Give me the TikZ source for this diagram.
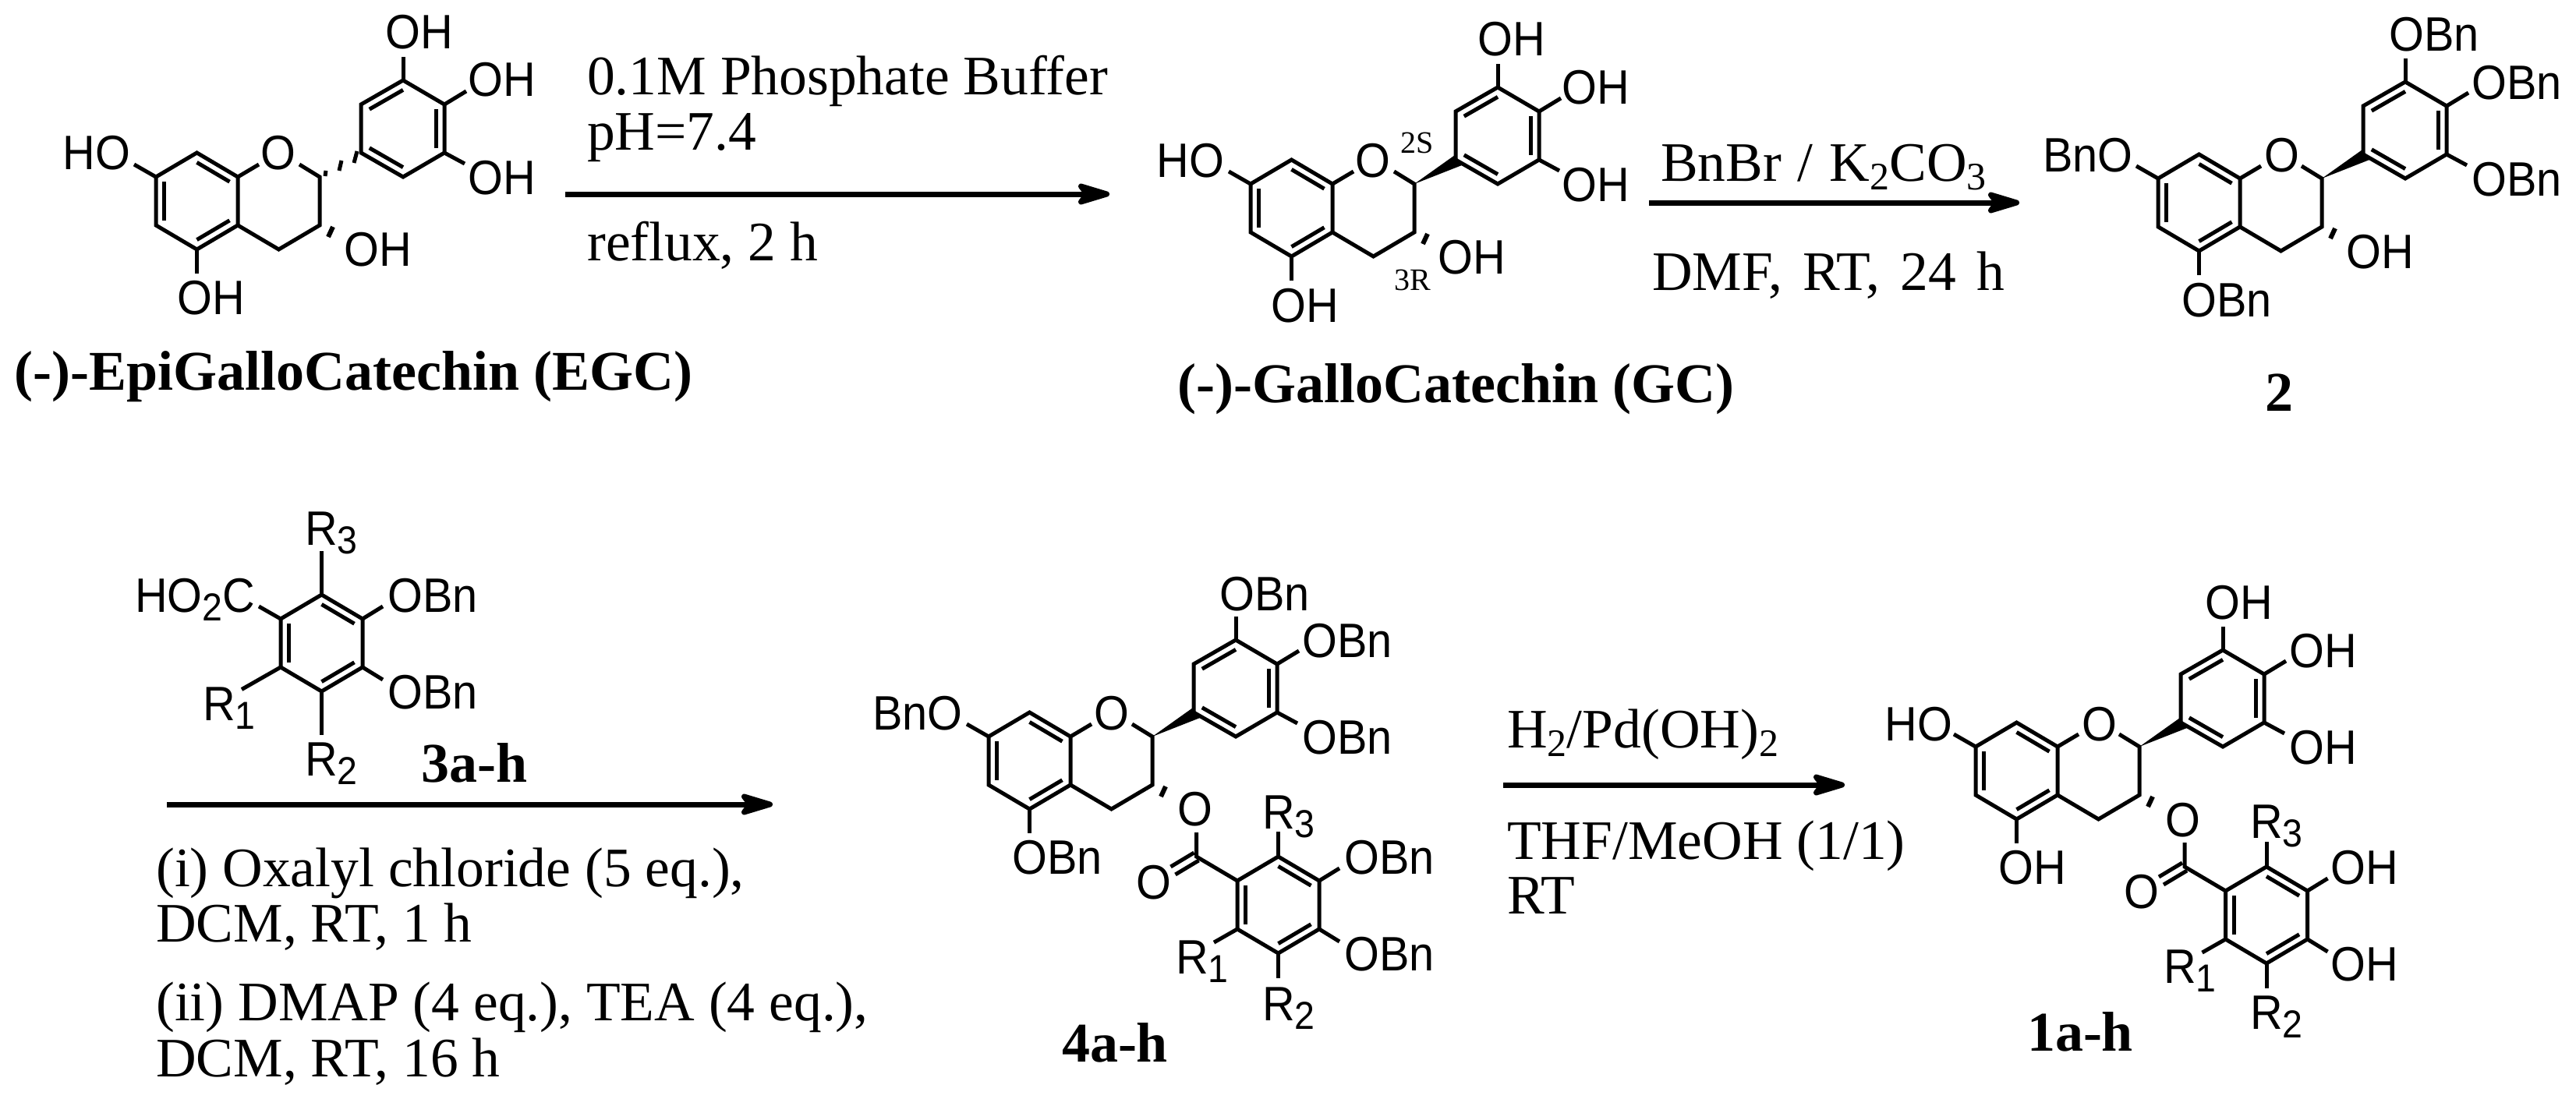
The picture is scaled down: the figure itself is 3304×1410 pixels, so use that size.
\documentclass[tikz,border=0pt]{standalone}
\usepackage{fontspec}
\setmainfont{Liberation Serif}
\setsansfont[FakeStretch=0.93]{Liberation Sans}
\usetikzlibrary{calc,arrows.meta}
\newcommand\lowdigit[1]{\raisebox{-11pt}{\fontsize{50}{50}\selectfont #1}}
\tikzset{
  bond/.style={line width=5pt,line join=miter,line cap=butt,black},
  atom/.style={font=\sffamily\fontsize{62}{62}\selectfont,inner sep=0pt,text height=44pt,text depth=0pt,anchor=center},
  rxntext/.style={font=\fontsize{71.5}{72}\selectfont,inner sep=0pt,anchor=base west},
  cpd/.style={font=\bfseries\fontsize{72}{72}\selectfont,inner sep=0pt,anchor=base west},
  cpdc/.style={font=\bfseries\fontsize{72}{72}\selectfont,inner sep=0pt,anchor=base},
  stereo/.style={font=\fontsize{40}{40}\selectfont,inner sep=0pt,anchor=center},
  rxnarrow/.style={line width=7pt,-{Stealth[length=54pt,width=32pt,inset=12pt,round]}},
}
% inner line of a ring double bond: a, b and the ring centre
\newcommand\inbond[3]{\draw[bond] ($(#1)!.2!(#3)$) -- ($(#2)!.2!(#3)$);}
% flavan-3-ol skeleton; #1 prefix, #2 #3 position of C8a
\newcommand\flavan[3]{%
\begin{scope}[shift={(#2,#3)}]
  \coordinate (#1ea) at (0,0);
  \coordinate (#1eb) at (-52.5,-31);
  \coordinate (#1sv) at (-105,0);
  \coordinate (#1sx) at (-105,62);
  \coordinate (#1fv) at (-52.5,93);
  \coordinate (#1fa) at (0,62);
  \coordinate (#1fo) at (52.5,93);
  \coordinate (#1th) at (105,62);
  \coordinate (#1tw) at (105,0);
  \coordinate (#1ac) at (-52.5,31);
  \coordinate (#1bo) at (158,-31);
  \coordinate (#1bt) at (158,-93);
  \coordinate (#1bc) at (212,-124);
  \coordinate (#1bf) at (265,-93);
  \coordinate (#1bv) at (265,-31);
  \coordinate (#1bs) at (212,0);
  \coordinate (#1bm) at (212,-62);
  \draw[bond] (#1ea) -- (#1eb) -- (#1sv) -- (#1sx) -- (#1fv) -- (#1fa) -- cycle;
  \draw[bond] (#1fa) -- (#1fo) -- (#1th) -- (#1tw) -- (79,-16);
  \draw[bond] (#1ea) -- (27,-16);
  \draw[bond] (#1bo) -- (#1bt) -- (#1bc) -- (#1bf) -- (#1bv) -- (#1bs) -- cycle;
  \inbond{#1ea}{#1eb}{#1ac}
  \inbond{#1sv}{#1sx}{#1ac}
  \inbond{#1fv}{#1fa}{#1ac}
  \inbond{#1bt}{#1bc}{#1bm}
  \inbond{#1bf}{#1bv}{#1bm}
  \inbond{#1bo}{#1bs}{#1bm}
  \draw[bond] (#1sv) -- (-133,-16);
  \draw[bond] (#1fv) -- (-52.5,124);
  \draw[bond] (#1bc) -- (212,-154);
  \draw[bond] (#1bf) -- (293,-110);
  \draw[bond] (#1bv) -- (291,-17);
  \draw[line width=6pt] (122,64) -- (116,77);
\end{scope}}
\newcommand\solidwedge[3]{%
\begin{scope}[shift={(#2,#3)}]
  \fill (#1tw) -- (157,-37) -- (166,-24) -- cycle;
\end{scope}}
\newcommand\hashwedge[3]{%
\begin{scope}[shift={(#2,#3)}]
  \draw[bond] (113,-8) -- (112,-1);
  \draw[bond] (133,-21) -- (130,-8);
  \draw[bond] (153,-33) -- (149,-18);
\end{scope}}
% substituted benzene; #1 prefix, #2 #3 centre, #4 length of vertical stubs, #5 x-length of the R1 stub
\newcommand\aroyl[5]{%
\begin{scope}[shift={(#2,#3)}]
  \coordinate (#1c) at (0,0);
  \coordinate (#1lt) at (-52.5,-31);
  \coordinate (#1t) at (0,-62);
  \coordinate (#1rt) at (52.5,-31);
  \coordinate (#1rb) at (52.5,31);
  \coordinate (#1b) at (0,62);
  \coordinate (#1lb) at (-52.5,31);
  \draw[bond] (#1lt) -- (#1t) -- (#1rt) -- (#1rb) -- (#1b) -- (#1lb) -- cycle;
  \inbond{#1lt}{#1lb}{#1c}
  \inbond{#1t}{#1rt}{#1c}
  \inbond{#1rb}{#1b}{#1c}
  \draw[bond] (#1t) -- ++(0,-#4);
  \draw[bond] (#1b) -- ++(0,#4);
  \draw[bond] (#1rt) -- ++(26,-16);
  \draw[bond] (#1rb) -- ++(26,16);
  \draw[bond] (#1lb) -- ++({-#5},{#5*0.57});
\end{scope}}
% ester C(=O)O on the upper-left ring atom; #1 ring prefix
\newcommand\ester[1]{%
  \coordinate (#1co) at ($(#1lt)+(-52.5,-31)$);
  \draw[bond] (#1lt) -- (#1co) -- ++(0,-31);
  \draw[bond] ($(#1co)+(3,5)$) -- ++(-30,18);
  \draw[bond] ($(#1co)+(-3,-5)$) -- ++(-30,18);
}
\begin{document}
\begin{tikzpicture}[x=1pt,y=-1pt]
\useasboundingbox (0,0) rectangle (3304,1410);
\fill[white] (0,0) rectangle (3304,1410);

% (-)-EpiGalloCatechin
\flavan{e}{305}{227}
\hashwedge{e}{305}{227}
\node[atom] (eHO) at (124,195) {HO};
\node[atom] (eO) at (357,195) {O};
\node[atom] (eOHa) at (538,41) {OH};
\node[atom] (eOHb) at (644,102) {OH};
\node[atom] (eOHc) at (644,227) {OH};
\node[atom] (eOHd) at (485,319) {OH};
\node[atom] (eOHe) at (271,381) {OH};
\node[cpd] (eName) at (18,500) {(-)-EpiGalloCatechin (EGC)};

% first reaction
\coordinate (ra1) at (725,249);
\coordinate (rb1) at (1423,249);
\draw[rxnarrow] (ra1) -- (rb1);
\node[rxntext] (t1a) at (753,122) {0.1M Phosphate Buffer};
\node[rxntext] (t1b) at (753,193) {pH=7.4};
\node[rxntext] (t1c) at (753,334) {reflux, 2 h};

% (-)-GalloCatechin
\flavan{g}{1709}{236}
\solidwedge{g}{1709}{236}
\node[atom] (gHO) at (1527,205) {HO};
\node[atom] (gO) at (1761,205) {O};
\node[atom] (gOHa) at (1939,50) {OH};
\node[atom] (gOHb) at (2047,112) {OH};
\node[atom] (gOHc) at (2047,236) {OH};
\node[atom] (gOHd) at (1888,329) {OH};
\node[atom] (gOHe) at (1674,391) {OH};
\node[stereo] (g2S) at (1818,183) {2S};
\node[stereo] (g3R) at (1812,359) {3R};
\node[cpd] (gName) at (1510,516) {(-)-GalloCatechin (GC)};

% second reaction
\coordinate (ra2) at (2115,260);
\coordinate (rb2) at (2590,260);
\draw[rxnarrow] (ra2) -- (rb2);
\node[rxntext] (t2a) at (2130,232) {BnBr\hspace{3pt} /\hspace{3pt} K\lowdigit{2}CO\lowdigit{3}};
\node[rxntext] (t2b) at (2119,372) {DMF,\hspace{8pt} RT,\hspace{8pt} 24\hspace{8pt} h};

% compound 2
\flavan{b}{2873}{229}
\solidwedge{b}{2873}{229}
\node[atom] (bBnO) at (2678,198) {BnO};
\node[atom] (bO) at (2927,198) {O};
\node[atom] (bOBa) at (3122,44) {OBn};
\node[atom] (bOBb) at (3228,106) {OBn};
\node[atom] (bOBc) at (3228,229) {OBn};
\node[atom] (bOH) at (3053,322) {OH};
\node[atom] (bOBd) at (2856,384) {OBn};
\node[cpdc] (bName) at (2923,527) {2};

% acid 3a-h
\aroyl{a}{412.5}{825}{56}{50}
\draw[bond] (alt) -- (332,778);
\node[atom] (aHO) at (250,763) {HO\lowdigit{2}C};
\node[atom] (aOBa) at (555,763) {OBn};
\node[atom] (aOBb) at (555,887) {OBn};
\node[atom] (aRc) at (425,677) {R\lowdigit{3}};
\node[atom] (aRb) at (425,973) {R\lowdigit{2}};
\node[atom] (aRa) at (294,902) {R\lowdigit{1}};
\node[cpdc] (aName) at (609,1003) {3a-h};

% third reaction
\coordinate (ra3) at (214,1032);
\coordinate (rb3) at (991,1032);
\draw[rxnarrow] (ra3) -- (rb3);
\node[rxntext] (t3a) at (200,1137) {(i) Oxalyl chloride (5 eq.),};
\node[rxntext] (t3b) at (200,1208) {DCM, RT, 1 h};
\node[rxntext] (t3c) at (200,1309) {(ii) DMAP (4 eq.), TEA (4 eq.),};
\node[rxntext] (t3d) at (200,1381) {DCM, RT, 16 h};

% compound 4a-h
\flavan{d}{1373}{945}
\solidwedge{d}{1373}{945}
\aroyl{f}{1639.5}{1161}{32}{30}
\ester{f}
\node[atom] (dBnO) at (1177,914) {BnO};
\node[atom] (dO) at (1426,914) {O};
\node[atom] (dOBa) at (1622,761) {OBn};
\node[atom] (dOBb) at (1728,821) {OBn};
\node[atom] (dOBc) at (1728,945) {OBn};
\node[atom] (dOBd) at (1356,1099) {OBn};
\node[atom] (dOa) at (1533,1037) {O};
\node[atom] (dOc) at (1480,1131) {O};
\node[atom] (dOBe) at (1782,1099) {OBn};
\node[atom] (dOBf) at (1782,1223) {OBn};
\node[atom] (dRc) at (1653,1041) {R\lowdigit{3}};
\node[atom] (dRb) at (1653,1287) {R\lowdigit{2}};
\node[atom] (dRa) at (1542,1227) {R\lowdigit{1}};
\node[cpdc] (dName) at (1430,1362) {4a-h};

% fourth reaction
\coordinate (ra4) at (1928,1007);
\coordinate (rb4) at (2366,1007);
\draw[rxnarrow] (ra4) -- (rb4);
\node[rxntext] (t4a) at (1933,959) {H\lowdigit{2}/Pd(OH)\lowdigit{2}};
\node[rxntext] (t4b) at (1933,1102) {THF/MeOH (1/1)};
\node[rxntext] (t4c) at (1933,1172) {RT};

% compound 1a-h
\flavan{c}{2639}{958}
\solidwedge{c}{2639}{958}
\aroyl{h}{2907}{1174}{32}{30}
\ester{h}
\node[atom] (cHO) at (2461,928) {HO};
\node[atom] (cO) at (2693,928) {O};
\node[atom] (cOHa) at (2872,772) {OH};
\node[atom] (cOHb) at (2980,834) {OH};
\node[atom] (cOHc) at (2980,958) {OH};
\node[atom] (cOHd) at (2607,1112) {OH};
\node[atom] (cOa) at (2800,1051) {O};
\node[atom] (cOc) at (2747,1143) {O};
\node[atom] (cOHe) at (3033,1112) {OH};
\node[atom] (cOHf) at (3033,1236) {OH};
\node[atom] (cRc) at (2920,1053) {R\lowdigit{3}};
\node[atom] (cRb) at (2920,1298) {R\lowdigit{2}};
\node[atom] (cRa) at (2809,1239) {R\lowdigit{1}};
\node[cpdc] (cName) at (2668,1348) {1a-h};
\end{tikzpicture}
\end{document}
